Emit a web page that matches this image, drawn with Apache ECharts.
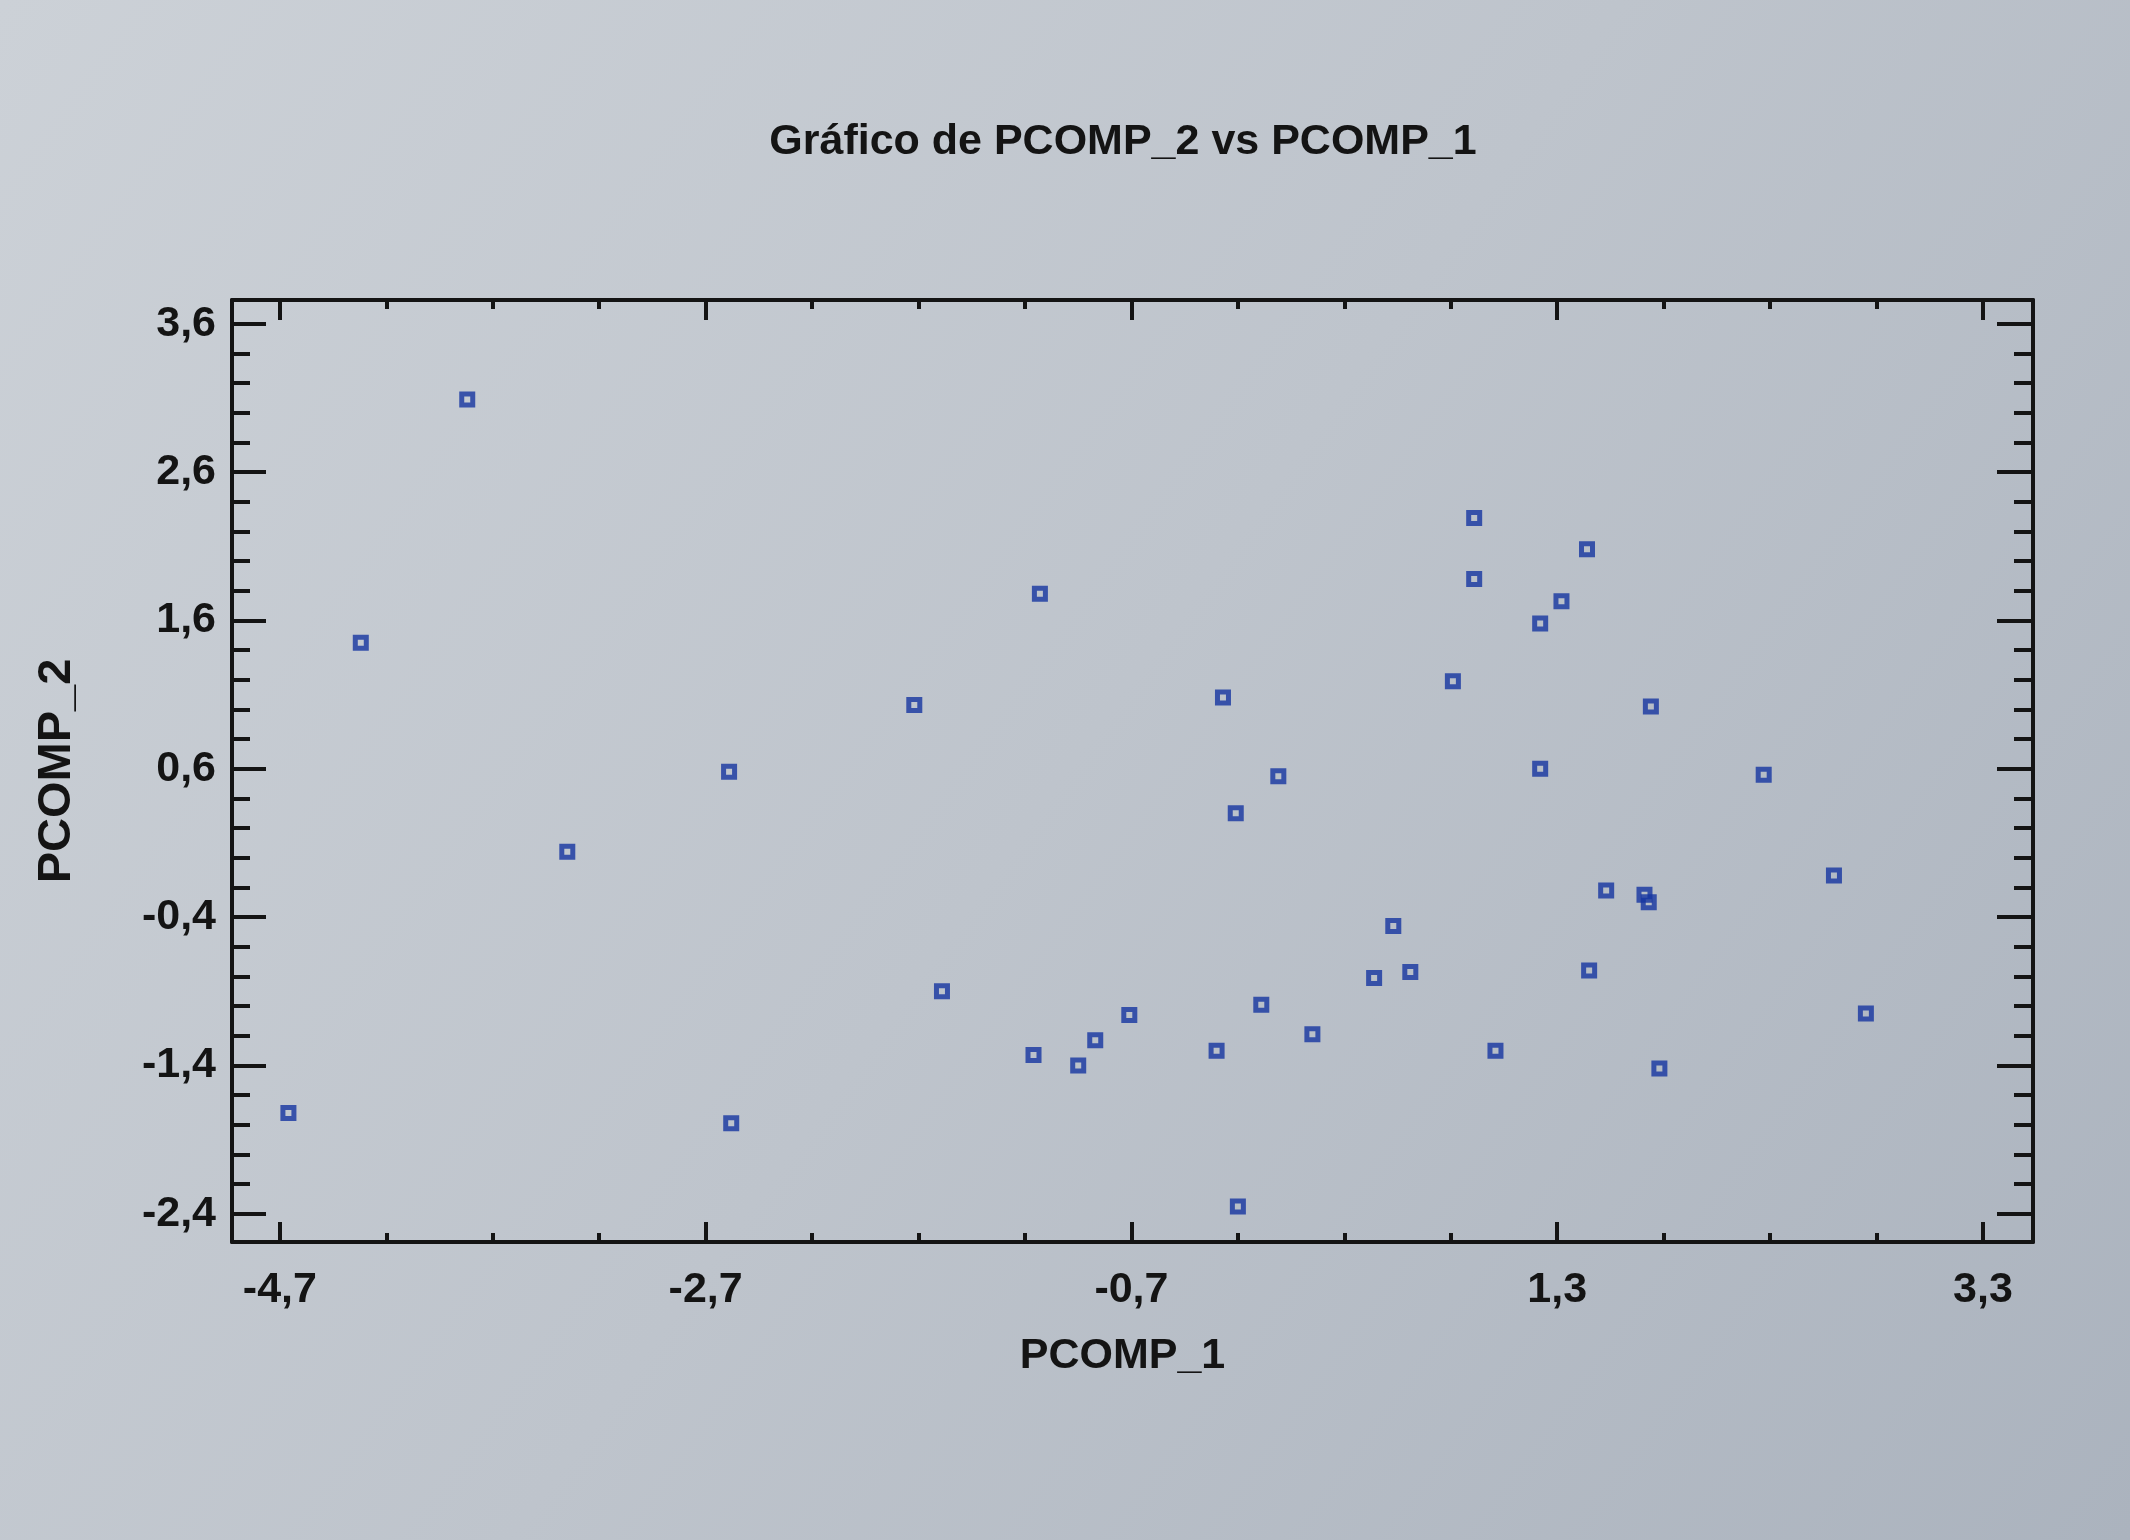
<!DOCTYPE html>
<html>
<head>
<meta charset="utf-8">
<script src="https://cdn.jsdelivr.net/npm/echarts@6/dist/echarts.min.js"></script>
<style>
html,body{margin:0;padding:0;background:#bcc2ca;}
#chart{width:2130px;height:1540px;}
</style>
</head>
<body>
<div id="chart"></div>
<script>
// ---- data ----
const pcomp1 = [-3.82,-4.32,-4.66,-3.35,-2.59,-2.58,-1.72,-1.59,-1.13,-1.16,-0.95,-0.87,-0.71,-0.27,-0.21,-0.30,-0.20,-0.09,-0.01,0.15,0.44,0.53,0.61,0.81,0.91,0.91,1.01,1.22,1.32,1.22,1.44,1.45,1.53,1.71,1.73,1.74,1.78,2.27,2.60,2.75];
const pcomp2 = [3.09,1.45,-1.72,0.04,0.58,-1.79,1.03,-0.90,1.78,-1.33,-1.40,-1.23,-1.06,1.08,0.30,-1.30,-2.35,-0.99,0.55,-1.19,-0.81,-0.46,-0.77,1.19,2.29,1.88,-1.30,1.58,1.73,0.60,2.08,-0.76,-0.22,-0.25,-0.30,1.02,-1.42,0.56,-0.12,-1.05];
const xMajorTicks = [-4.7,-2.7,-0.7,1.3,3.3];
const xMinorTicks = [-4.2,-3.7,-3.2,-2.2,-1.7,-1.2,-0.2,0.3,0.8,1.8,2.3,2.8];
const yMajorTicks = [-2.4,-1.4,-0.4,0.6,1.6,2.6,3.6];
const yMinorTicks = [-2.2,-2.0,-1.8,-1.6,-1.2,-1.0,-0.8,-0.6,-0.2,0,0.2,0.4,0.8,1.0,1.2,1.4,1.8,2.0,2.2,2.4,2.8,3.0,3.2,3.4];
const titleText = 'Gráfico de PCOMP_2 vs PCOMP_1';
const xName = 'PCOMP_1';
const yName = 'PCOMP_2';
const xRange = [-4.925, 3.535];
const yRange = [-2.59, 3.76];

const FONT = "'Liberation Sans',Arial,sans-serif";
const INK = '#141414';
const fmt = v => Number(v).toFixed(1).replace('.', ',');

function xAxisDef(position, ticks, len, showLine, showLabel) {
  return {
    type: 'value', position: position, min: xRange[0], max: xRange[1],
    splitLine: {show: false},
    axisLine: {show: showLine, onZero: false, lineStyle: {color: INK, width: 4}},
    axisTick: {show: true, inside: true, length: len, customValues: ticks, lineStyle: {color: INK, width: 4}},
    axisLabel: showLabel ? {show: true, customValues: ticks, formatter: fmt, margin: 27,
      fontFamily: FONT, fontWeight: 'bold', fontSize: 43, color: INK} : {show: false},
    name: showLabel ? xName : '', nameLocation: 'middle', nameGap: 93,
    nameTextStyle: {fontFamily: FONT, fontWeight: 'bold', fontSize: 43, color: INK, padding: [0, 20, 0, 0]}
  };
}
function yAxisDef(position, ticks, len, showLine, showLabel) {
  return {
    type: 'value', position: position, min: yRange[0], max: yRange[1],
    splitLine: {show: false},
    axisLine: {show: showLine, onZero: false, lineStyle: {color: INK, width: 4}},
    axisTick: {show: true, inside: true, length: len, customValues: ticks, lineStyle: {color: INK, width: 4}},
    axisLabel: showLabel ? {show: true, customValues: ticks, formatter: fmt, margin: 16,
      fontFamily: FONT, fontWeight: 'bold', fontSize: 43, color: INK} : {show: false},
    name: showLabel ? yName : '', nameLocation: 'middle', nameGap: 151, nameRotate: 90,
    nameTextStyle: {fontFamily: FONT, fontWeight: 'bold', fontSize: 47, color: INK}
  };
}

const chart = echarts.init(document.getElementById('chart'), null, {renderer: 'canvas'});
chart.setOption({
  backgroundColor: {
    type: 'linear', x: 0, y: 0, x2: 1, y2: 1,
    colorStops: [{offset: 0, color: '#ccd1d7'}, {offset: 0.5, color: '#bec4cc'}, {offset: 1, color: '#abb3be'}]
  },
  animation: false,
  title: {
    text: titleText, left: 1118, top: 116, textAlign: 'center',
    textStyle: {fontFamily: FONT, fontWeight: 'bold', fontSize: 43, color: INK}
  },
  grid: {left: 232, right: 97, top: 300, bottom: 298, containLabel: false},
  xAxis: [
    xAxisDef('bottom', xMajorTicks, 20, true, true),
    xAxisDef('bottom', xMinorTicks, 9, false, false),
    xAxisDef('top', xMajorTicks, 20, true, false),
    xAxisDef('top', xMinorTicks, 9, false, false)
  ],
  yAxis: [
    yAxisDef('left', yMajorTicks, 34, true, true),
    yAxisDef('left', yMinorTicks, 18, false, false),
    yAxisDef('right', yMajorTicks, 36, true, false),
    yAxisDef('right', yMinorTicks, 19, false, false)
  ],
  series: [{
    type: 'scatter', xAxisIndex: 0, yAxisIndex: 0,
    symbol: 'rect', symbolSize: 11,
    itemStyle: {color: 'rgba(0,0,0,0)', borderColor: '#1535a0', borderWidth: 5},
    data: pcomp1.map((x, i) => [x, pcomp2[i]])
  }]
});
</script>
</body>
</html>
